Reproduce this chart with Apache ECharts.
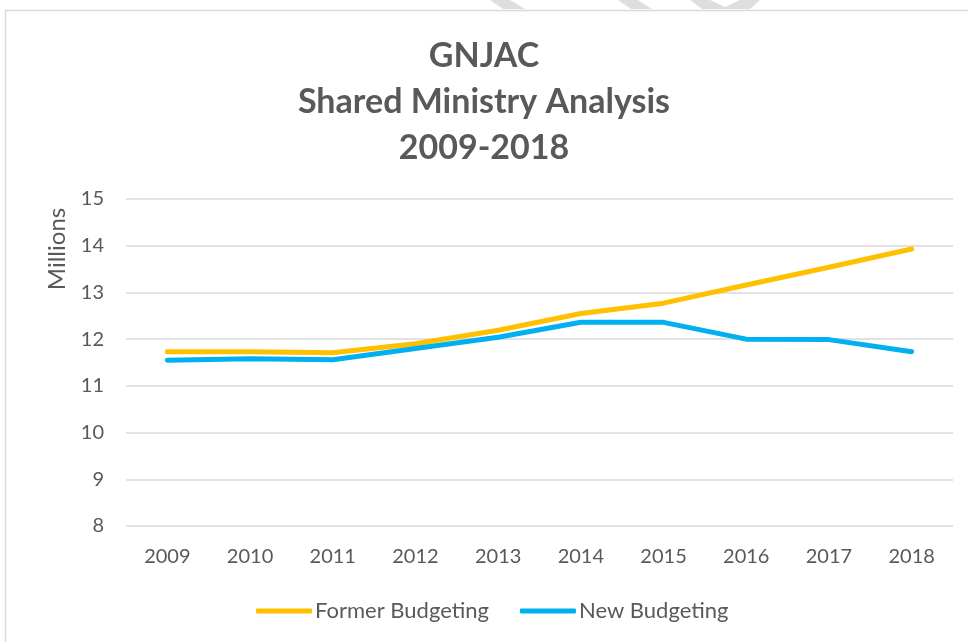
<!DOCTYPE html>
<html><head><meta charset="utf-8">
<script src="https://cdn.jsdelivr.net/npm/echarts@6/dist/echarts.min.js"></script>
<style>html,body{margin:0;padding:0;background:#fff}#c{width:968px;height:642px}</style>
</head><body><div id="c"></div>
<script>
const years = ['2009','2010','2011','2012','2013','2014','2015','2016','2017','2018'];
const formerBudgeting = [11.73, 11.73, 11.71, 11.90, 12.19, 12.55, 12.77, 13.16, 13.54, 13.93];
const newBudgeting = [11.55, 11.58, 11.56, 11.80, 12.04, 12.36, 12.36, 12.00, 11.99, 11.73];
const yTicks = {min: 8, max: 15, interval: 1};
const titleText = 'GNJAC\nShared Ministry Analysis\n2009-2018';

const chart = echarts.init(document.getElementById('c'));
const font = 'Lato, "Open Sans", sans-serif';
const wm = '#dedede';
chart.setOption({
  animation: false,
  textStyle: {fontFamily: font},
  title: {
    text: titleText, left: 'center', top: 28,
    textStyle: {fontFamily: font, fontWeight: 'bold', fontSize: 34, color: '#595959', lineHeight: 46}
  },
  graphic: [
    {type: 'polygon', shape: {points: [[490,0],[510,0],[525,9],[503,9]]}, style: {fill: wm}, silent: true},
    {type: 'polygon', shape: {points: [[618,0],[638,0],[652,9],[631,9]]}, style: {fill: wm}, silent: true},
    {type: 'polygon', shape: {points: [[690,0],[710,0],[725,7],[740,0],[760,0],[750,9],[702,9]]}, style: {fill: wm}, silent: true},
    {type: 'rect', shape: {x: 5.5, y: 10.5, width: 980, height: 660}, style: {fill: 'none', stroke: '#d9d9d9', lineWidth: 1.5}, silent: true},
    {type: 'text', x: 57, y: 249, rotation: Math.PI / 2,
     style: {text: 'Millions', fontFamily: font, fontSize: 24, fill: '#595959', align: 'center', verticalAlign: 'middle'}}
  ],
  grid: {left: 126, right: 15, top: 199, bottom: 116, containLabel: false},
  legend: {
    bottom: 15, left: 251, itemWidth: 56, itemHeight: 5, itemGap: 31, icon: 'roundRect',
    textStyle: {fontFamily: font, fontSize: 22, color: '#595959', padding: [0,0,0,-2]},
    data: ['Former Budgeting', 'New Budgeting']
  },
  xAxis: {
    type: 'category', data: years, boundaryGap: true,
    axisLine: {show: false}, axisTick: {show: false},
    axisLabel: {fontFamily: font, fontSize: 20, color: '#595959', margin: 21}
  },
  yAxis: {
    type: 'value', min: yTicks.min, max: yTicks.max, interval: yTicks.interval,
    axisLine: {show: false}, axisTick: {show: false},
    axisLabel: {fontFamily: font, fontSize: 20, color: '#595959', margin: 22},
    splitLine: {lineStyle: {color: '#d9d9d9', width: 1.5}}
  },
  series: [
    {name: 'Former Budgeting', type: 'line', data: formerBudgeting, symbol: 'none',
     lineStyle: {color: '#FFC000', width: 5, cap: 'round', join: 'round'}, itemStyle: {color: '#FFC000'}},
    {name: 'New Budgeting', type: 'line', data: newBudgeting, symbol: 'none',
     lineStyle: {color: '#00B0F0', width: 5, cap: 'round', join: 'round'}, itemStyle: {color: '#00B0F0'}}
  ]
});
</script></body></html>
